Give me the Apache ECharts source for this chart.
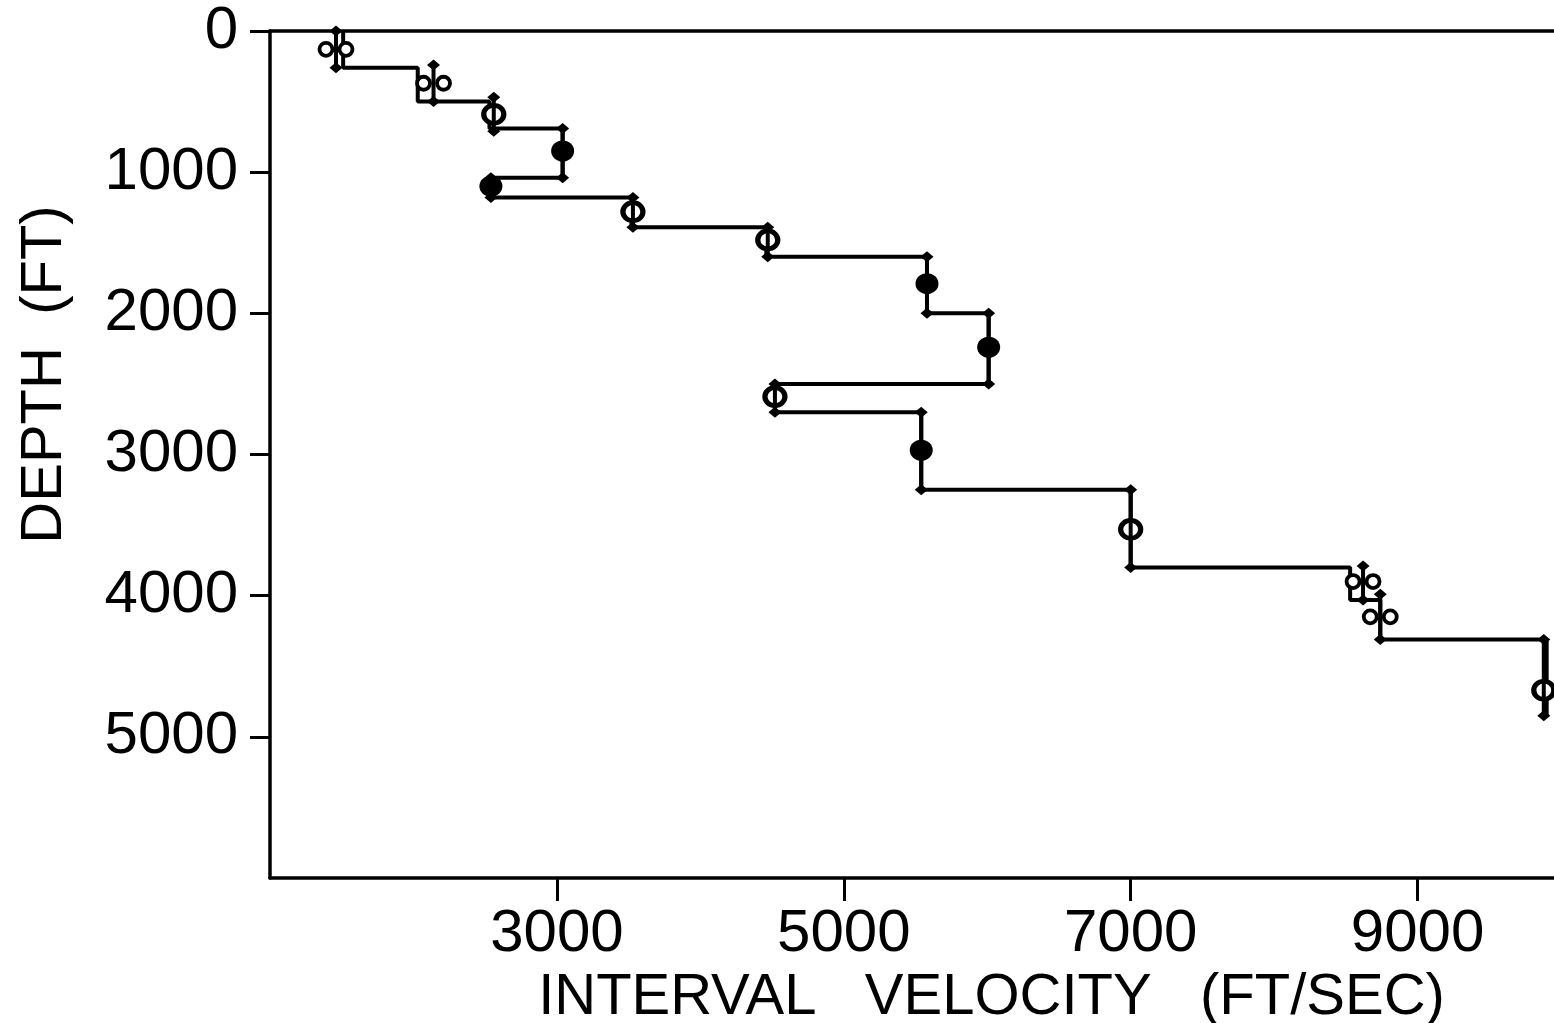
<!DOCTYPE html>
<html>
<head>
<meta charset="utf-8">
<script src="https://cdn.jsdelivr.net/npm/echarts@6/dist/echarts.min.js"></script>
<style>
html,body{margin:0;padding:0;background:#fff;}
#chart{width:1554px;height:1023px;}
</style>
</head>
<body>
<div id="chart"></div>
<script>
// ---- data ----
const velTicks = [3000, 5000, 7000, 9000];
const depthTicks = [0, 1000, 2000, 3000, 4000, 5000];

// interval-velocity layers: velocity, top depth, bottom depth
const layerVel = [1510, 2030, 2530, 3040, 2530, 3520, 4460, 5580, 6010, 4520, 5540, 7000, 8530, 8740, 9900];
const layerTop = [0, 260, 500, 690, 1040, 1180, 1390, 1600, 2000, 2500, 2700, 3250, 3800, 4030, 4310];
const layerBot = [260, 500, 690, 1040, 1180, 1390, 1600, 2000, 2500, 2700, 3250, 3800, 4030, 4310, 4850];

// measured points with error bars
const markVel   = [1460, 2140, 2560, 3040, 2540, 3530, 4470, 5580, 6010, 4520, 5540, 7000, 8620, 8740, 9880];
const markDepth = [130, 370, 590, 850, 1100, 1280, 1480, 1790, 2240, 2590, 2970, 3530, 3900, 4150, 4670];
const errTop    = [0, 240, 470, 690, 1040, 1180, 1390, 1600, 2000, 2500, 2700, 3250, 3790, 3990, 4310];
const errBot    = [260, 500, 710, 1040, 1180, 1390, 1600, 2000, 2500, 2700, 3250, 3800, 4030, 4310, 4850];
const markType  = ['ring2', 'ring2', 'open', 'filled', 'filled', 'open', 'open', 'filled', 'filled', 'open', 'filled', 'open', 'ring2', 'ring2', 'open'];

const xTitle = 'INTERVAL   VELOCITY   (FT/SEC)';
const yTitle = 'DEPTH  (FT)';

// ---- build series data ----
const stepData = [];
for (let i = 0; i < layerVel.length; i++) {
  stepData.push([layerVel[i], layerTop[i]]);
  stepData.push([layerVel[i], layerBot[i]]);
}
const errData = markVel.map((v, i) => [v, errTop[i], errBot[i]]);
const pick = (t) => markVel.map((v, i) => markType[i] === t ? [v, markDepth[i]] : null).filter(Boolean);

const FONT = 'Liberation Sans';
const LW = 4;
const chart = echarts.init(document.getElementById('chart'), null, {renderer: 'canvas'});

function renderErr(params, api) {
  const v = api.value(0), t = api.value(1), b = api.value(2);
  const p1 = api.coord([v, t]), p2 = api.coord([v, b]);
  const dia = (p) => ({
    type: 'polygon',
    shape: {points: [[p[0] - 6.5, p[1]], [p[0], p[1] - 5.5], [p[0] + 6.5, p[1]], [p[0], p[1] + 5.5]]},
    style: {fill: '#000'}
  });
  return {
    type: 'group',
    children: [
      {type: 'line', shape: {x1: p1[0], y1: p1[1], x2: p2[0], y2: p2[1]}, style: {stroke: '#000', lineWidth: LW}},
      dia(p1), dia(p2)
    ]
  };
}

const plainLabel = (v) => String(v);

chart.setOption({
  backgroundColor: '#fff',
  animation: false,
  grid: {left: 270, top: 31, width: 1291, height: 847, containLabel: false, outerBoundsMode: 'none'},
  xAxis: [{
    type: 'value', min: 1000, max: 10000, position: 'bottom',
    name: xTitle, nameLocation: 'middle', nameGap: 87,
    nameTextStyle: {fontFamily: FONT, fontSize: 58, color: '#000', padding: [0, 0, 0, 152]},
    axisLine: {show: true, onZero: false, lineStyle: {color: '#000', width: 3.5}},
    axisTick: {show: true, length: 23, customValues: velTicks, lineStyle: {color: '#000', width: 3}},
    axisLabel: {show: true, customValues: velTicks, formatter: plainLabel, margin: 26, fontFamily: FONT, fontSize: 60, color: '#000'},
    splitLine: {show: false}
  }, {
    type: 'value', min: 1000, max: 10000, position: 'top',
    axisLine: {show: true, onZero: false, lineStyle: {color: '#000', width: 3.5}},
    axisTick: {show: false}, axisLabel: {show: false}, splitLine: {show: false}
  }],
  yAxis: {
    type: 'value', min: 0, max: 6000, inverse: true, position: 'left',
    name: yTitle, nameLocation: 'middle', nameGap: 196, nameRotate: 90,
    nameTextStyle: {fontFamily: FONT, fontSize: 58, color: '#000', padding: [0, 0, 0, 160]},
    axisLine: {show: true, onZero: false, lineStyle: {color: '#000', width: 3.5}},
    axisTick: {show: true, length: 20, customValues: depthTicks, lineStyle: {color: '#000', width: 3}},
    axisLabel: {show: true, customValues: depthTicks, formatter: plainLabel, margin: 32, fontFamily: FONT, fontSize: 60, color: '#000'},
    splitLine: {show: false}
  },
  series: [
    {
      type: 'line', data: stepData, showSymbol: false, symbol: 'none',
      lineStyle: {color: '#000', width: LW, opacity: 1}, z: 2, clip: false
    },
    {
      type: 'scatter', data: pick('filled'), symbol: 'circle', symbolSize: [23, 21],
      itemStyle: {color: '#000', opacity: 1}, z: 3
    },
    {
      type: 'scatter', data: pick('open'), symbol: 'circle', symbolSize: [20, 18],
      itemStyle: {color: '#fff', borderColor: '#000', borderWidth: 5, opacity: 1}, z: 3
    },
    {
      type: 'scatter', data: pick('ring2'), symbol: 'circle', symbolSize: 13, symbolOffset: [-10, 0],
      itemStyle: {color: '#fff', borderColor: '#000', borderWidth: 3.8, opacity: 1}, z: 3
    },
    {
      type: 'scatter', data: pick('ring2'), symbol: 'circle', symbolSize: 13, symbolOffset: [10, 0],
      itemStyle: {color: '#fff', borderColor: '#000', borderWidth: 3.8, opacity: 1}, z: 3
    },
    {
      type: 'custom', data: errData, renderItem: renderErr,
      encode: {x: 0, y: [1, 2]}, z: 4, clip: false
    }
  ]
});
</script>
</body>
</html>
